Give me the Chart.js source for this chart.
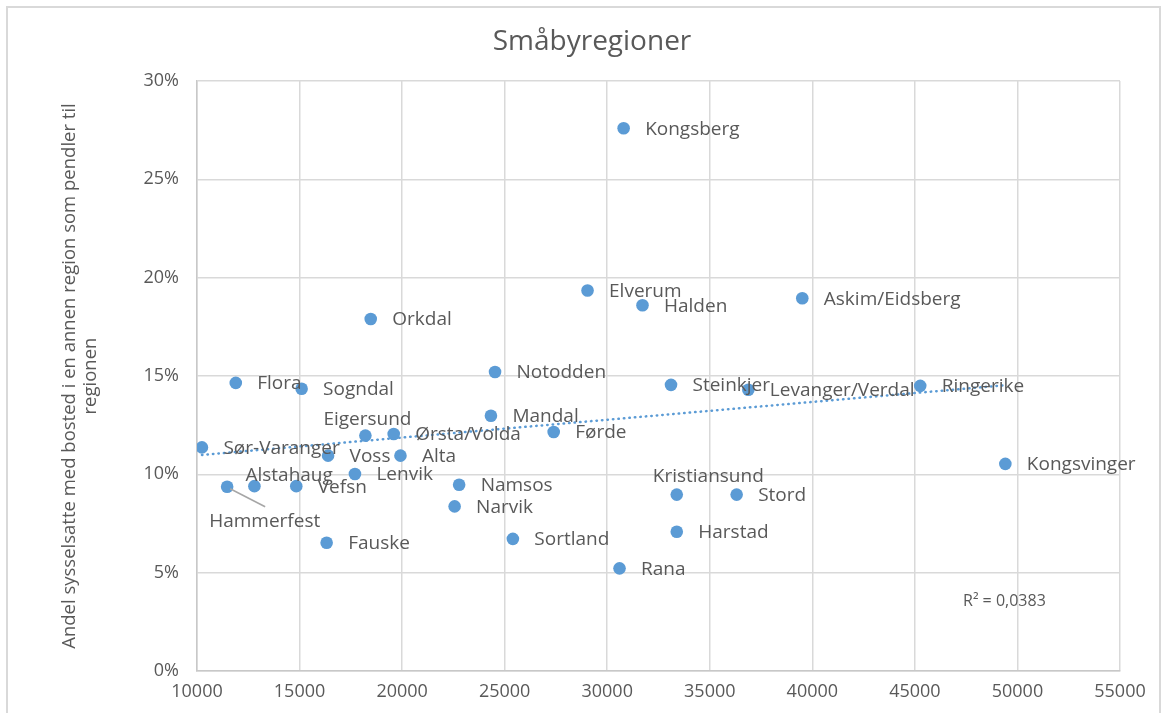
<!DOCTYPE html>
<html>
<head>
<meta charset="utf-8">
<script src="https://cdn.jsdelivr.net/npm/chart.js@4.4.1/dist/chart.umd.min.js"></script>
<style>
  html, body { margin: 0; padding: 0; background: #fff; }
  canvas { display: block; }
</style>
</head>
<body>
<canvas id="scatter" width="1168" height="713"></canvas>
<script>
// småbyregioner: x = verdi på x-aksen, y = andel (%) som pendler til regionen
const regions = [
  'Kongsberg', 'Elverum', 'Halden', 'Askim/Eidsberg', 'Orkdal', 'Notodden',
  'Flora', 'Sogndal', 'Steinkjer', 'Levanger/Verdal', 'Ringerike', 'Mandal',
  'Eigersund', 'Ørsta/Volda', 'Førde', 'Sør-Varanger', 'Voss', 'Alta',
  'Kongsvinger', 'Lenvik', 'Hammerfest', 'Alstahaug', 'Vefsn', 'Namsos',
  'Kristiansund', 'Stord', 'Narvik', 'Harstad', 'Sortland', 'Fauske', 'Rana'
];
const xValues = [
  30800, 29040, 31720, 39510, 18470, 24530,
  11890, 15100, 33110, 36880, 45260, 24330,
  18210, 19590, 27390, 10240, 16390, 19920,
  49410, 17700, 11470, 12800, 14840, 22780,
  33390, 36310, 22560, 33390, 25400, 16320, 30600
];
const yValues = [
  27.6, 19.35, 18.6, 18.95, 17.9, 15.2,
  14.65, 14.35, 14.55, 14.3, 14.5, 12.98,
  11.97, 12.05, 12.15, 11.37, 10.95, 10.95,
  10.53, 10.02, 9.37, 9.4, 9.4, 9.47,
  8.97, 8.97, 8.37, 7.08, 6.72, 6.52, 5.22
];
const xTicks = [10000, 15000, 20000, 25000, 30000, 35000, 40000, 45000, 50000, 55000];
const yTicks = [0, 5, 10, 15, 20, 25, 30];
const chartTitle = 'Småbyregioner';
const rSquaredText = 'R² = 0,0383';

const textColor = '#595959';
const blue = '#5B9BD5';

// lineær trendlinje (minste kvadraters metode)
const n = xValues.length;
const mx = xValues.reduce((a, b) => a + b, 0) / n;
const my = yValues.reduce((a, b) => a + b, 0) / n;
let sxy = 0, sxx = 0;
for (let i = 0; i < n; i++) {
  sxy += (xValues[i] - mx) * (yValues[i] - my);
  sxx += (xValues[i] - mx) ** 2;
}
const slope = sxy / sxx;
const icept = my - slope * mx;
const xMin = Math.min(...xValues), xMax = Math.max(...xValues);

// etiketter som ikke står rett til høyre for punktet
const labelPlace = {
  'Eigersund': [-42, -16],
  'Alstahaug': [-9, -11],
  'Hammerfest': [-18, 35],
  'Kristiansund': [-24, -18]
};

const labelsPlugin = {
  id: 'pointLabels',
  beforeDraw(chart) {
    const ctx = chart.ctx;
    ctx.save();
    ctx.fillStyle = '#fff';
    ctx.fillRect(0, 0, chart.width, chart.height);
    ctx.strokeStyle = '#d9d9d9';
    ctx.lineWidth = 2;
    ctx.strokeRect(7, 7, 1153, 800);
    // tittel
    ctx.font = '28px "Open Sans"';
    ctx.fillStyle = textColor;
    ctx.textAlign = 'center';
    ctx.textBaseline = 'middle';
    ctx.fillText(chartTitle, 592, 42);
    ctx.restore();
  },
  afterDatasetsDraw(chart) {
    const ctx = chart.ctx;
    const meta = chart.getDatasetMeta(1);
    ctx.save();
    ctx.font = '19px "Open Sans"';
    ctx.fillStyle = textColor;
    ctx.textAlign = 'left';
    ctx.textBaseline = 'middle';
    meta.data.forEach((pt, i) => {
      const name = regions[i];
      const [dx, dy] = labelPlace[name] || [21.5, 1];
      if (name === 'Hammerfest') {
        ctx.strokeStyle = '#a6a6a6';
        ctx.lineWidth = 1.5;
        ctx.beginPath();
        ctx.moveTo(pt.x + 3, pt.y + 2);
        ctx.lineTo(pt.x + 38, pt.y + 20);
        ctx.stroke();
      }
      ctx.fillText(name, pt.x + dx, pt.y + dy);
    });
    // R²
    const area = chart.chartArea;
    ctx.font = '16px "Open Sans"';
    ctx.fillText(rSquaredText, area.right - 157, area.bottom - 70);
    ctx.restore();
  }
};

new Chart(document.getElementById('scatter'), {
  type: 'scatter',
  data: {
    datasets: [{
      type: 'line',
      label: 'Lineær',
      data: [{ x: xMin, y: icept + slope * xMin }, { x: xMax, y: icept + slope * xMax }],
      borderColor: blue,
      borderWidth: 2.5,
      borderDash: [0.5, 5],
      borderCapStyle: 'round',
      pointRadius: 0,
      fill: false,
      order: 0
    }, {
      label: 'Småbyregioner',
      data: regions.map((r, i) => ({ x: xValues[i], y: yValues[i] })),
      backgroundColor: blue,
      borderWidth: 0,
      pointRadius: 6.3,
      order: 1
    }]
  },
  plugins: [labelsPlugin],
  options: {
    responsive: false,
    animation: false,
    layout: { padding: { top: 81, left: 0, right: 48, bottom: 0 } },
    plugins: {
      legend: { display: false },
      tooltip: { enabled: false },
      title: { display: false }
    },
    scales: {
      x: {
        type: 'linear',
        min: 10000,
        max: 55000,
        afterBuildTicks: s => { s.ticks = xTicks.map(v => ({ value: v })); },
        afterFit: s => { s.height = 42; },
        ticks: {
          color: textColor,
          font: { family: 'Open Sans', size: 18 },
          padding: 10,
          callback: v => String(v)
        },
        grid: { color: '#d9d9d9', lineWidth: 1.5, drawTicks: false },
        border: { color: '#c8c8c8', width: 1.5 }
      },
      y: {
        min: 0,
        max: 30,
        afterBuildTicks: s => { s.ticks = yTicks.map(v => ({ value: v })); },
        afterFit: s => { s.width = 197; },
        ticks: {
          color: textColor,
          font: { family: 'Open Sans', size: 18 },
          padding: 18,
          callback: v => v + '%'
        },
        grid: { color: '#d9d9d9', lineWidth: 1.5, drawTicks: false },
        border: { color: '#c8c8c8', width: 1.5 },
        title: {
          display: true,
          text: ['Andel sysselsatte med bosted i en annen region som pendler til', 'regionen'],
          color: textColor,
          font: { family: 'Open Sans', size: 18.5, lineHeight: 1.1 },
          padding: { top: 60, bottom: 0 }
        }
      }
    }
  }
});
</script>
</body>
</html>
